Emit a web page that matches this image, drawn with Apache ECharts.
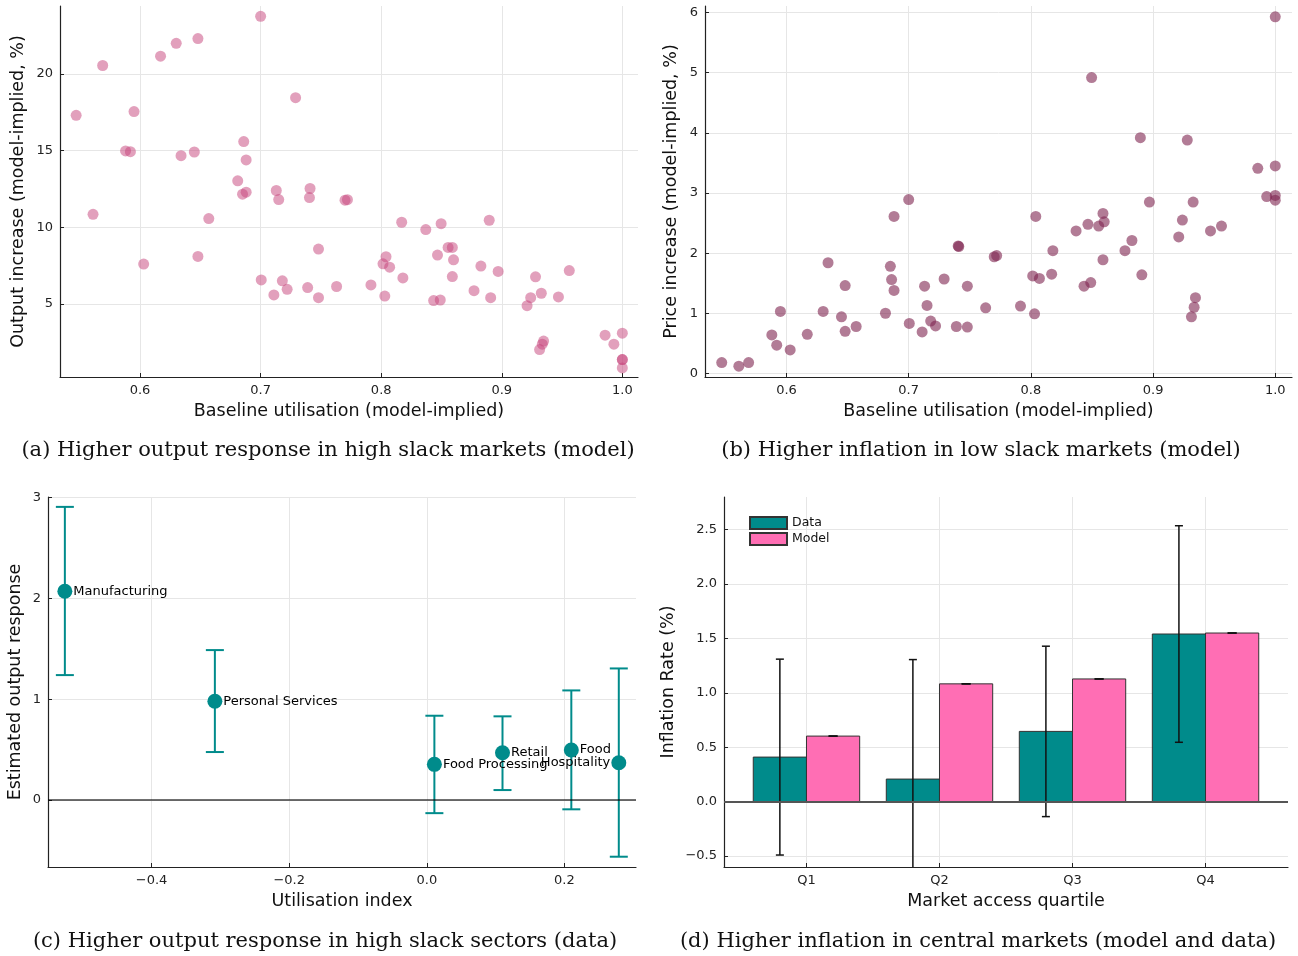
<!DOCTYPE html>
<html><head><meta charset="utf-8">
<script src="https://cdn.jsdelivr.net/npm/echarts@6/dist/echarts.min.js"></script>
<style>html,body{margin:0;padding:0;background:#fff}#c{width:1298px;height:956px}</style>
</head><body><div id="c"></div>
<script>
// ---------- data ----------
const utilX = [
0.547,0.561,0.569,0.588,0.592,0.595,0.603,0.617,0.630,0.634,
0.645,0.648,0.648,0.657,0.681,0.685,0.686,0.688,0.688,0.700,
0.7005,0.711,0.713,0.715,0.718,0.722,0.729,0.739,0.741,0.7405,
0.748,0.748,0.763,0.770,0.772,0.7915,0.8015,0.803,0.804,0.807,
0.817,0.818,0.837,0.8435,0.8467,0.849,0.8497,0.8555,0.859,0.860,
0.859,0.877,0.8827,0.8896,0.8908,0.897,0.921,0.924,0.928,0.9328,
0.9347,0.9336,0.9314,0.947,0.956,0.9857,0.993,1.0,1.0,1.0,1.0];
const outputInc = [
17.3,10.85,20.55,14.98,14.93,17.55,7.6,21.16,22.0,14.67,
14.91,22.31,8.1,10.57,13.03,12.16,15.59,14.39,12.29,23.76,
6.57,5.59,12.4,11.81,6.51,5.96,18.45,6.07,12.53,11.94,
8.58,5.41,6.14,11.77,11.80,6.24,7.62,5.52,8.08,7.40,
10.33,6.70,9.85,5.22,8.19,5.26,10.24,8.69,8.69,7.88,
6.79,5.87,7.47,10.46,5.41,7.12,4.89,5.41,6.77,5.70,
2.58,2.38,2.03,5.46,7.18,2.97,2.38,3.10,1.38,1.38,0.83];
const priceInc = [
0.18,0.12,0.18,0.64,0.47,1.03,0.39,0.65,1.03,1.84,
0.94,1.46,0.70,0.78,1.00,1.78,1.56,1.38,2.61,2.89,
0.83,0.69,1.45,1.13,0.87,0.79,1.57,0.78,2.11,2.12,
1.45,0.77,1.09,1.94,1.96,1.12,1.62,0.99,2.61,1.58,
1.65,2.04,2.37,1.45,2.48,1.51,4.92,2.45,2.66,2.52,
1.89,2.04,2.21,3.92,1.64,2.85,2.27,2.55,3.88,2.85,
1.26,1.10,0.94,2.37,2.45,3.41,2.94,3.45,2.96,2.88,5.93];

const sectorNames = ['Manufacturing','Personal Services','Food Processing','Retail','Food','Hospitality'];
const sectorX  = [-0.526,-0.308,0.011,0.110,0.210,0.279];
const sectorY  = [2.07,0.98,0.354,0.469,0.496,0.37];
const sectorLo = [1.239,0.476,-0.13,0.099,-0.092,-0.562];
const sectorHi = [2.907,1.487,0.836,0.83,1.087,1.305];

const quartiles = ['Q1','Q2','Q3','Q4'];
const dataInfl  = [0.41,0.208,0.646,1.541];
const dataErr   = [0.90,1.098,0.783,0.995];
const modelInfl = [0.603,1.083,1.128,1.55];

const ticksUtil = [0.6,0.7,0.8,0.9,1.0];
const ticksOutput = [5,10,15,20];
const ticksPrice = [0,1,2,3,4,5,6];
const ticksSectorX = [-0.4,-0.2,0.0,0.2];
const ticksSectorY = [0,1,2,3];
const ticksInfl = [-0.5,0,0.5,1.0,1.5,2.0,2.5];
const ticksQuart = [1,2,3,4];

const captions = [
 '(a) Higher output response in high slack markets (model)',
 '(b) Higher inflation in low slack markets (model)',
 '(c) Higher output response in high slack sectors (data)',
 '(d) Higher inflation in central markets (model and data)'
];

// ---------- styling helpers ----------
const SANS = 'DejaVu Sans';
const SERIF = 'DejaVu Serif';
const TEAL = '#008B8B';
const PINK = '#FF6EB4';
const fmt1 = v => (v < 0 ? '\u2212' : '') + Math.abs(v).toFixed(1);

function axis(gridIndex, min, max, ticks, formatter, name, nameGap) {
  return {
    type: 'value', gridIndex, min, max,
    axisLine: { show: true, onZero: false, lineStyle: { color: '#222', width: 1.2 } },
    axisTick: { show: true, inside: true, length: 4, customValues: ticks, lineStyle: { color: '#222', width: 1 } },
    axisLabel: { customValues: ticks, formatter, color: '#222', fontSize: 13, fontFamily: SANS, margin: 7 },
    splitLine: { show: true, lineStyle: { color: '#e6e6e6', width: 1 } },
    name, nameLocation: 'middle', nameGap,
    nameTextStyle: { fontSize: 17.5, fontFamily: SANS, color: '#111' }
  };
}

function errRender(capPx, color, width, offset) {
  return function (params, api) {
    const x = api.value(0) + offset, lo = api.value(1), hi = api.value(2);
    const a = api.coord([x, lo]), b = api.coord([x, hi]);
    const h = capPx / 2;
    const st = { stroke: color, lineWidth: width };
    return { type: 'group', children: [
      { type: 'line', shape: { x1: a[0], y1: a[1], x2: b[0], y2: b[1] }, style: st },
      { type: 'line', shape: { x1: a[0] - h, y1: a[1], x2: a[0] + h, y2: a[1] }, style: st },
      { type: 'line', shape: { x1: b[0] - h, y1: b[1], x2: b[0] + h, y2: b[1] }, style: st }
    ]};
  };
}
function barRender(fromOff, toOff) {
  return function (params, api) {
    const x = api.value(0), v = api.value(1);
    const p0 = api.coord([x + fromOff, v]);
    const p1 = api.coord([x + toOff, 0]);
    return { type: 'rect',
      shape: { x: p0[0], y: Math.min(p0[1], p1[1]), width: p1[0] - p0[0], height: Math.abs(p1[1] - p0[1]) },
      style: api.style() };
  };
}

const grids = [
  { left: 60, top: 6, width: 578, height: 371 },
  { left: 705, top: 6, width: 587, height: 371 },
  { left: 48, top: 497, width: 588, height: 370 },
  { left: 724, top: 497, width: 564, height: 370 }
];

const option = {
  animation: false,
  backgroundColor: '#fff',
  grid: grids.map(g => Object.assign({ containLabel: false }, g)),
  xAxis: [
    axis(0, 0.5336, 1.013, ticksUtil, v => v.toFixed(1), 'Baseline utilisation (model-implied)', 25),
    axis(1, 0.5333, 1.0137, ticksUtil, v => v.toFixed(1), 'Baseline utilisation (model-implied)', 25),
    axis(2, -0.5505, 0.304, ticksSectorX, fmt1, 'Utilisation index', 25),
    axis(3, 0.38, 4.62, ticksQuart, v => quartiles[Math.round(v) - 1], 'Market access quartile', 25)
  ],
  yAxis: [
    axis(0, 0.24, 24.43, ticksOutput, v => String(v), 'Output increase (model-implied, %)', 33),
    axis(1, -0.06, 6.11, ticksPrice, v => String(v), 'Price increase (model-implied, %)', 25),
    axis(2, -0.664, 3.005, ticksSectorY, v => String(v), 'Estimated output response', 24),
    axis(3, -0.6, 2.8, ticksInfl, fmt1, 'Inflation Rate (%)', 47)
  ],
  legend: {
    data: ['Data', 'Model'], orient: 'vertical', left: 749, top: 516, padding: 0,
    itemWidth: 37, itemHeight: 12, itemGap: 2, icon: 'rect',
    selectedMode: false,
    textStyle: { fontSize: 12.5, fontFamily: SANS, color: '#111' }
  },
  series: [
    { type: 'scatter', xAxisIndex: 0, yAxisIndex: 0, symbolSize: 11, silent: true,
      itemStyle: { color: 'rgba(197,65,121,0.5)', opacity: 1 },
      data: utilX.map((x, i) => [x, outputInc[i]]) },
    { type: 'scatter', xAxisIndex: 1, yAxisIndex: 1, symbolSize: 11, silent: true,
      itemStyle: { color: 'rgba(127,37,80,0.6)', opacity: 1 },
      data: utilX.map((x, i) => [x, priceInc[i]]) },
    { type: 'custom', xAxisIndex: 2, yAxisIndex: 2, silent: true, clip: true, z: 2,
      renderItem: errRender(18, TEAL, 2, 0),
      data: sectorX.map((x, i) => [x, sectorLo[i], sectorHi[i]]) },
    { type: 'scatter', xAxisIndex: 2, yAxisIndex: 2, symbolSize: 15, silent: true, z: 3,
      itemStyle: { color: TEAL, opacity: 1 },
      label: { show: true, fontSize: 13, fontFamily: SANS, color: '#000', distance: 1,
               formatter: p => sectorNames[p.dataIndex] },
      markLine: { silent: true, symbol: 'none', label: { show: false },
                  lineStyle: { color: 'rgba(0,0,0,0.75)', width: 1.5, type: 'solid' },
                  data: [{ yAxis: 0 }] },
      data: sectorX.map((x, i) => ({ value: [x, sectorY[i]], label: { position: i === 5 ? 'left' : 'right' } })) },
    { name: 'Data', type: 'custom', xAxisIndex: 3, yAxisIndex: 3, silent: true, z: 2,
      renderItem: barRender(-0.4, 0),
      itemStyle: { color: TEAL, borderColor: '#333', borderWidth: 1 },
      data: quartiles.map((q, i) => [i + 1, dataInfl[i]]) },
    { name: 'Model', type: 'custom', xAxisIndex: 3, yAxisIndex: 3, silent: true, z: 2,
      renderItem: barRender(0, 0.4),
      itemStyle: { color: PINK, borderColor: '#333', borderWidth: 1 },
      markLine: { silent: true, symbol: 'none', label: { show: false },
                  lineStyle: { color: '#555', width: 2, type: 'solid' },
                  data: [{ yAxis: 0 }] },
      data: quartiles.map((q, i) => [i + 1, modelInfl[i]]) },
    { type: 'custom', xAxisIndex: 3, yAxisIndex: 3, silent: true, clip: true, z: 4,
      renderItem: errRender(8, '#111', 1.5, -0.2),
      data: quartiles.map((q, i) => [i + 1, dataInfl[i] - dataErr[i], dataInfl[i] + dataErr[i]]) },
    { type: 'custom', xAxisIndex: 3, yAxisIndex: 3, silent: true, clip: true, z: 4,
      renderItem: errRender(9, '#111', 1.5, 0.2),
      data: quartiles.map((q, i) => [i + 1, modelInfl[i], modelInfl[i]]) }
  ],
  graphic: [
    [328, 451], [981, 451], [325, 942], [978, 942]
  ].map((pos, i) => ({
    type: 'text', x: pos[0], y: pos[1], silent: true,
    style: { text: captions[i], fill: '#111', font: '21px "' + SERIF + '"', textAlign: 'center', textVerticalAlign: 'middle' }
  }))
};

const chart = echarts.init(document.getElementById('c'));
chart.setOption(option);
</script>
</body></html>
